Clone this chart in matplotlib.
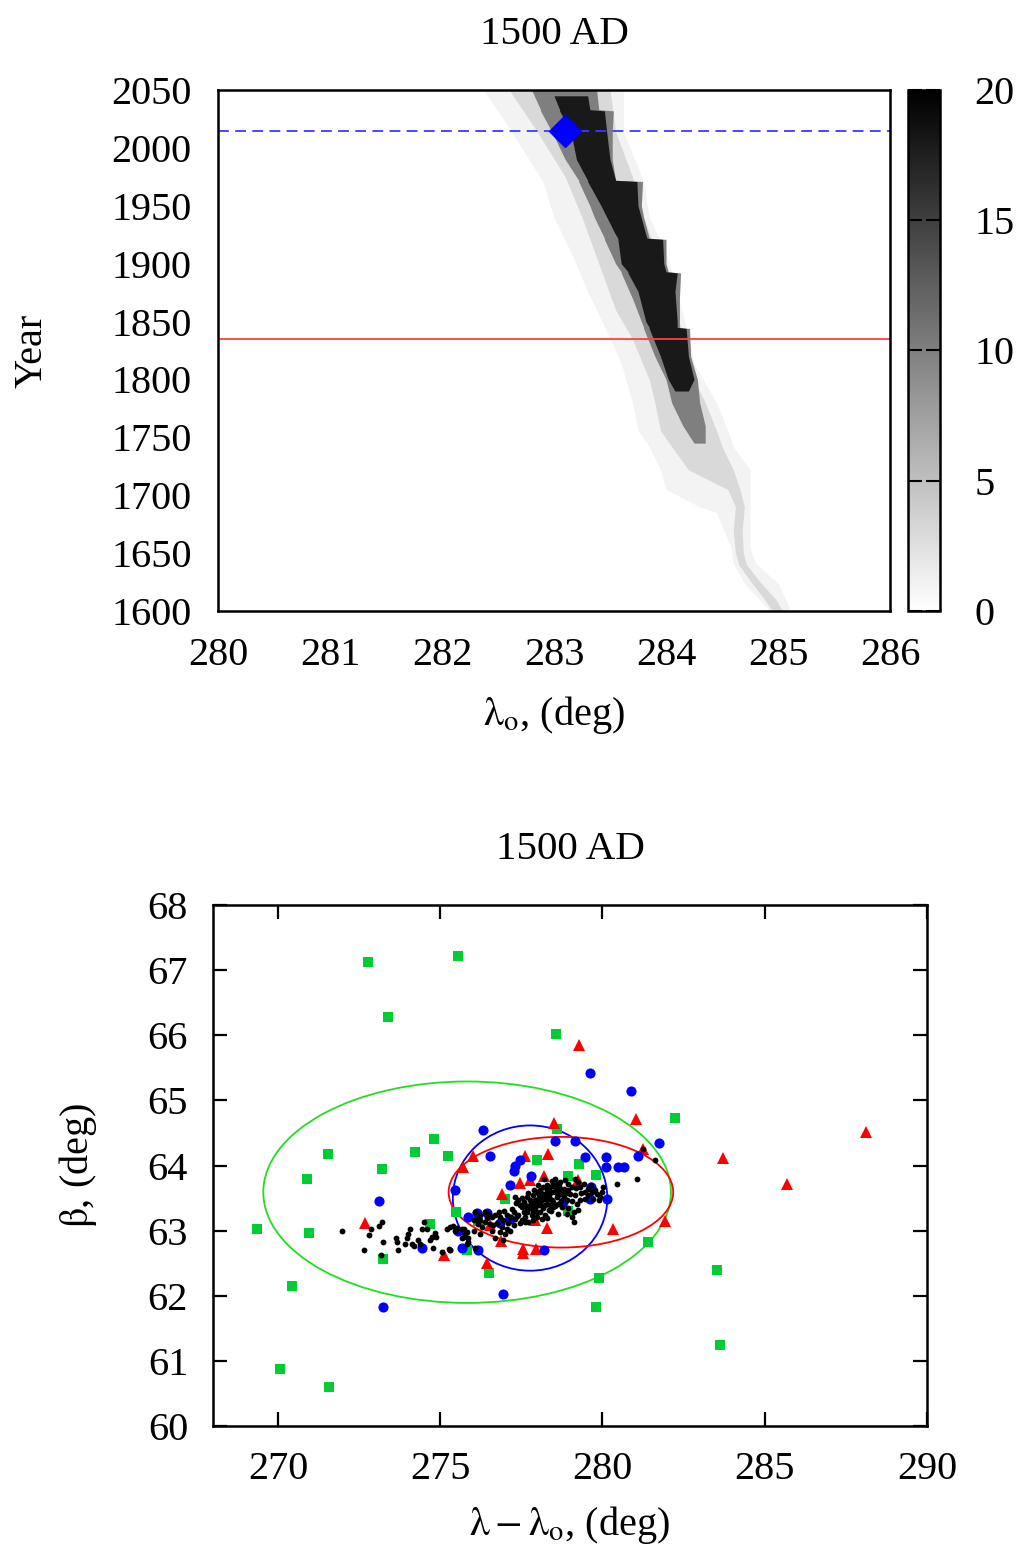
import matplotlib
matplotlib.use("Agg")
import matplotlib.pyplot as plt
from matplotlib.patches import Ellipse
from matplotlib.colors import Normalize
from matplotlib.cm import ScalarMappable

plt.rcParams["font.family"] = ["Liberation Serif", "DejaVu Serif"]
plt.rcParams["mathtext.fontset"] = "stix"
plt.rcParams["font.size"] = 29

# ---- top panel: density of clone tracks, layered by count level ----
faint_year = [2050, 2014, 1971, 1940, 1910, 1876, 1836, 1814, 1780, 1756, 1742, 1722, 1705, 1690, 1685, 1655, 1641, 1624, 1603, 1600]
faint_lo = [282.37, 282.62, 282.90, 283.00, 283.15, 283.30, 283.50, 283.60, 283.70, 283.75, 283.85, 283.95, 284.00, 284.30, 284.45, 284.58, 284.60, 284.70, 284.90, 284.92]
faint_hi = [283.62, 283.62, 283.80, 283.85, 284.00, 284.10, 284.20, 284.25, 284.45, 284.55, 284.60, 284.75, 284.75, 284.75, 284.75, 284.75, 284.80, 285.00, 285.10, 285.10]

light_year = [2050, 2014, 1975, 1940, 1900, 1860, 1835, 1800, 1780, 1756, 1742, 1722, 1705, 1690, 1670, 1650, 1640, 1625, 1610, 1600]
light_lo = [282.60, 282.85, 283.10, 283.25, 283.40, 283.55, 283.70, 283.85, 283.90, 283.95, 284.05, 284.20, 284.55, 284.62, 284.60, 284.62, 284.65, 284.76, 284.88, 284.95]
light_hi = [283.50, 283.55, 283.70, 283.80, 283.95, 284.10, 284.15, 284.25, 284.35, 284.45, 284.50, 284.60, 284.66, 284.70, 284.68, 284.69, 284.72, 284.84, 284.98, 285.04]

med_year = [2050, 2033, 2032, 2014, 1990, 1972, 1971, 1950, 1940, 1922, 1921, 1900, 1893, 1892, 1870, 1845, 1844, 1820, 1800, 1780, 1760, 1745]
med_lo = [282.80, 282.88, 282.88, 282.98, 283.10, 283.22, 283.22, 283.32, 283.36, 283.45, 283.45, 283.55, 283.60, 283.60, 283.70, 283.80, 283.80, 283.90, 284.00, 284.05, 284.15, 284.25]
med_hi = [283.38, 283.40, 283.53, 283.52, 283.52, 283.55, 283.79, 283.78, 283.80, 283.85, 284.00, 284.00, 284.02, 284.13, 284.12, 284.12, 284.21, 284.22, 284.28, 284.30, 284.35, 284.35]

dark_year = [2045, 2033, 2032, 2014, 1990, 1972, 1971, 1950, 1925, 1922, 1921, 1900, 1893, 1892, 1876, 1850, 1845, 1844, 1820, 1800, 1790]
dark_lo = [283.00, 283.05, 283.05, 283.15, 283.20, 283.30, 283.30, 283.42, 283.55, 283.57, 283.57, 283.60, 283.66, 283.66, 283.75, 283.82, 283.85, 283.85, 283.95, 284.02, 284.08]
dark_hi = [283.30, 283.32, 283.45, 283.47, 283.50, 283.55, 283.74, 283.75, 283.82, 283.83, 283.97, 283.98, 284.00, 284.10, 284.08, 284.10, 284.10, 284.18, 284.20, 284.25, 284.20]

layer_counts = [1, 3, 10, 18]

year_now = 2015
year_obs = 1835
lam_now = 283.1

# ---- bottom panel: radiant scatter ----
green_lam = [272.79, 275.56, 273.39, 278.56, 282.24, 278.59, 274.80, 271.53, 274.23, 275.23, 273.22, 270.91,
             277.98, 279.27, 279.80, 278.95, 276.99, 275.48, 278.93, 269.35, 270.97, 274.70, 276.15, 275.82,
             273.25, 276.50, 281.40, 279.90, 270.42, 279.81, 283.53, 283.63, 270.06, 271.57]
green_beta = [67.12, 67.22, 66.28, 66.02, 64.73, 64.56, 64.40, 64.18, 64.20, 64.15, 63.94, 63.79,
              64.09, 64.03, 63.86, 63.84, 63.49, 63.29, 63.30, 63.02, 62.97, 63.10, 63.15, 62.71,
              62.56, 62.35, 62.83, 62.27, 62.15, 61.82, 62.39, 61.24, 60.88, 60.60]

red_lam = [279.28, 281.02, 278.52, 281.24, 276.01, 275.70, 277.62, 278.32, 278.21, 277.46, 277.77, 279.25,
           276.91, 272.68, 276.52, 277.93, 278.30, 280.31, 281.94, 276.87, 277.56, 277.56, 277.95, 275.12,
           276.45, 288.12, 283.70, 285.69]
red_beta = [65.85, 64.72, 64.66, 64.25, 64.14, 63.98, 64.14, 64.17, 63.84, 63.73, 63.77, 63.77,
            63.56, 63.12, 63.09, 63.17, 63.04, 63.02, 63.15, 62.84, 62.72, 62.65, 62.72, 62.62,
            62.51, 64.52, 64.11, 63.71]

blue_lam = [279.62, 280.89, 276.31, 281.75, 278.54, 279.16, 276.52, 277.46, 277.31, 277.26, 279.47, 280.11,
            280.11, 280.47, 280.65, 281.11, 277.81, 277.14, 275.46, 273.10, 279.62, 280.13, 278.77, 275.87,
            276.13, 276.44, 276.85, 275.56, 274.43, 275.67, 276.15, 278.20, 276.95, 273.25, 279.64, 277.16]
blue_beta = [65.42, 65.15, 64.55, 64.34, 64.37, 64.37, 64.15, 64.09, 64.00, 63.92, 64.13, 64.13,
             63.97, 63.97, 63.97, 64.15, 63.84, 63.70, 63.62, 63.46, 63.49, 63.49, 63.44, 63.21,
             63.27, 63.27, 63.12, 62.99, 62.73, 62.74, 62.71, 62.71, 62.03, 61.82, 63.67, 63.18]

black_lam = [
    271.99, 272.64, 272.82, 272.87, 273.13, 273.20, 273.23, 273.18, 273.63, 273.66, 273.71, 273.92, 273.99,
    274.02, 274.07, 274.13, 274.18, 274.33, 274.38, 274.44, 274.49, 274.59, 274.69, 274.74, 274.79, 274.85,
    274.88, 275.05, 275.21, 275.29, 275.39, 275.46, 275.53, 275.67, 275.77, 275.87, 275.29, 276.03, 276.13,
    275.26, 275.31, 275.72, 275.82,
    276.08, 276.23, 276.39, 276.49, 276.59, 276.69, 276.80, 276.85, 276.95, 277.05, 277.16, 277.26, 277.31,
    277.41, 277.51, 277.62, 277.67, 277.77, 277.82, 277.72, 277.46, 277.26, 277.05, 276.90, 276.64, 276.54,
    276.39, 276.23, 276.59, 276.85, 277.00, 277.16, 276.69, 276.95, 276.23, 276.03, 275.82, 275.72, 275.67,
    275.87, 276.08,
    277.31, 277.41, 277.46, 277.57, 277.67, 277.77, 277.87, 277.98, 278.08, 278.18, 278.29, 278.34, 278.39,
    278.49, 278.54, 278.59, 278.44, 278.29, 278.13, 278.03, 277.93, 277.77, 277.67, 277.57, 278.18, 278.34,
    278.49, 278.64, 278.75, 278.80, 278.70, 278.85, 278.95, 279.06, 279.00, 278.90, 278.75, 278.08, 277.98,
    278.13, 277.87, 278.23,
    278.03, 278.23, 278.44, 278.54, 278.64, 278.18, 278.39, 278.49, 277.93, 277.82, 277.62, 277.51, 278.08,
    278.29, 278.59, 278.70, 278.80, 278.23, 278.39, 277.98,
    279.16, 279.26, 279.31, 279.42, 279.47, 279.57, 279.67, 279.72, 279.83, 279.93, 280.03, 279.98, 279.88,
    279.31, 279.21, 279.11, 279.06, 279.11, 279.26, 278.90, 278.95,
    280.46, 281.06, 281.26, 281.61,
    277.35, 277.52, 277.70, 277.90, 278.00, 278.12, 278.25, 278.35, 278.45, 278.55, 278.62, 278.72, 278.88,
    278.95, 279.05, 279.15, 279.20, 279.35, 279.45, 279.55, 279.65, 279.78, 278.40, 278.55, 278.62, 278.30,
    277.95, 277.85, 277.60, 277.38, 277.20, 277.10, 276.98, 276.75, 276.45, 276.30, 276.15, 278.20, 278.00,
    278.65,
]
black_beta = [
    62.99, 62.71, 62.94, 63.02, 63.07, 63.13, 62.83, 62.62, 62.88, 62.83, 62.70, 62.79, 62.89,
    62.95, 63.03, 62.80, 62.76, 62.85, 62.80, 63.02, 63.14, 63.02, 62.85, 62.90, 62.73, 62.97,
    62.90, 62.67, 63.02, 63.06, 63.07, 62.99, 63.04, 63.03, 62.95, 62.88, 62.70, 63.16, 63.18,
    62.72, 62.70, 62.90, 62.80,
    63.29, 63.24, 63.29, 63.25, 63.21, 63.24, 63.29, 63.21, 63.16, 63.24, 63.21, 63.29, 63.18,
    63.24, 63.16, 63.21, 63.29, 63.34, 63.24, 63.13, 63.11, 63.08, 63.03, 63.06, 63.08, 63.10,
    63.13, 63.16, 63.00, 62.98, 62.95, 63.00, 62.88, 62.86, 62.95, 63.00, 62.98, 63.03, 62.88,
    62.83, 62.74,
    63.52, 63.47, 63.39, 63.44, 63.52, 63.47, 63.54, 63.59, 63.63, 63.67, 63.62, 63.54, 63.67,
    63.70, 63.59, 63.52, 63.47, 63.41, 63.47, 63.39, 63.34, 63.39, 63.34, 63.29, 63.34, 63.31,
    63.36, 63.41, 63.57, 63.64, 63.75, 63.77, 63.72, 63.67, 63.57, 63.47, 63.36, 63.29, 63.21,
    63.18, 63.16, 63.24,
    63.54, 63.57, 63.59, 63.67, 63.62, 63.52, 63.49, 63.44, 63.47, 63.41, 63.39, 63.36, 63.41,
    63.70, 63.72, 63.64, 63.52, 63.39, 63.39, 63.29,
    63.80, 63.75, 63.67, 63.72, 63.59, 63.54, 63.59, 63.49, 63.57, 63.52, 63.67, 63.59, 63.47,
    63.47, 63.41, 63.29, 63.21, 63.13, 63.31, 63.26, 63.34,
    63.71, 63.80, 64.26, 64.09,
    63.42, 63.50, 63.58, 63.62, 63.70, 63.58, 63.48, 63.60, 63.76, 63.80, 63.55, 63.46, 63.58,
    63.62, 63.45, 63.55, 63.66, 63.58, 63.48, 63.64, 63.70, 63.62, 63.30, 63.38, 63.25, 63.20,
    63.42, 63.28, 63.14, 63.22, 63.33, 63.12, 63.30, 63.12, 63.20, 63.05, 63.10, 63.80, 63.48,
    63.68,
]

# 1-sigma ellipses: centre lambda, centre beta, half-width, half-height
ell_green = (275.83, 63.59, 6.28, 1.70)
ell_blue = (277.77, 63.50, 2.38, 1.115)
ell_red = (278.72, 63.59, 3.46, 0.85)

fig = plt.figure(figsize=(10.21, 15.52), dpi=100)
W, H = 1021, 1552


def px_axes(x0, y0, x1, y1):
    return fig.add_axes([x0 / W, 1 - y1 / H, (x1 - x0) / W, (y1 - y0) / H])


# top panel
ax1 = px_axes(218, 90, 890, 611)
cax = px_axes(908, 90, 940, 611)
cmap = plt.get_cmap("gray_r")
norm = Normalize(0, 20)

layers = [(faint_year, faint_lo, faint_hi), (light_year, light_lo, light_hi),
          (med_year, med_lo, med_hi), (dark_year, dark_lo, dark_hi)]
for (yr, lo, hi), n in zip(layers, layer_counts):
    ax1.fill_betweenx(yr, lo, hi, color=cmap(norm(n)), lw=0)

ax1.axhline(year_now, color="#3a3aff", lw=1.3, ls=(0, (6, 3.5)))
ax1.axhline(year_obs, color="#ff4040", lw=1.3)
ax1.plot([lam_now], [year_now], "D", color="blue", ms=16, mec="blue")

ax1.set_xlim(280, 286)
ax1.set_ylim(1600, 2050)
ax1.set_xticks(range(280, 287))
ax1.set_yticks(range(1600, 2051, 50))
ax1.tick_params(length=0, pad=19)
for s in ax1.spines.values():
    s.set_linewidth(1.8)
ax1.set_title("1500 AD", pad=33, fontsize=29.5)
ax1.set_xlabel(r"$\mathrm{\lambda_o}$, (deg)")
ax1.xaxis.set_label_coords(0.5, -0.16)
ax1.set_ylabel("Year")
ax1.yaxis.set_label_coords(-0.25, 0.5)

cb = fig.colorbar(ScalarMappable(norm=norm, cmap=cmap), cax=cax)
cb.set_ticks([0, 5, 10, 15, 20])
cb.outline.set_linewidth(1.8)
cax.tick_params(direction="in", left=True, right=True, length=10, width=1.5, pad=25)

# bottom panel
ax2 = px_axes(213, 905, 927, 1426)
for cx, cy, a, b, col in [(*ell_green, "#22dd22"), (*ell_blue, "blue"), (*ell_red, "red")]:
    ax2.add_patch(Ellipse((cx, cy), 2 * a, 2 * b, fill=False, ec=col, lw=1.3))

ax2.plot(green_lam, green_beta, "s", color="#00cc33", ms=6.6, mew=0, ls="none")
ax2.plot(red_lam, red_beta, "^", color="red", ms=9, mew=0, ls="none")
ax2.plot(blue_lam, blue_beta, "o", color="blue", ms=7.3, mew=0, ls="none")
ax2.plot(black_lam, black_beta, "o", color="black", ms=4.2, mew=0, ls="none")

ax2.set_xlim(268, 290)
ax2.set_ylim(60, 68)
ax2.set_xticks(range(270, 291, 5))
ax2.set_yticks(range(60, 69))
ax2.tick_params(direction="in", top=True, right=True, length=10, width=1.6, pad=18)
for s in ax2.spines.values():
    s.set_linewidth(1.8)
ax2.set_title("1500 AD", pad=33, fontsize=29.5)
ax2.set_xlabel(r"$\mathrm{\lambda - \lambda_o}$, (deg)")
ax2.xaxis.set_label_coords(0.5, -0.15)
ax2.set_ylabel(r"$\mathrm{\beta}$, (deg)")
ax2.yaxis.set_label_coords(-0.16, 0.5)

fig.savefig("out.png", dpi=100)
